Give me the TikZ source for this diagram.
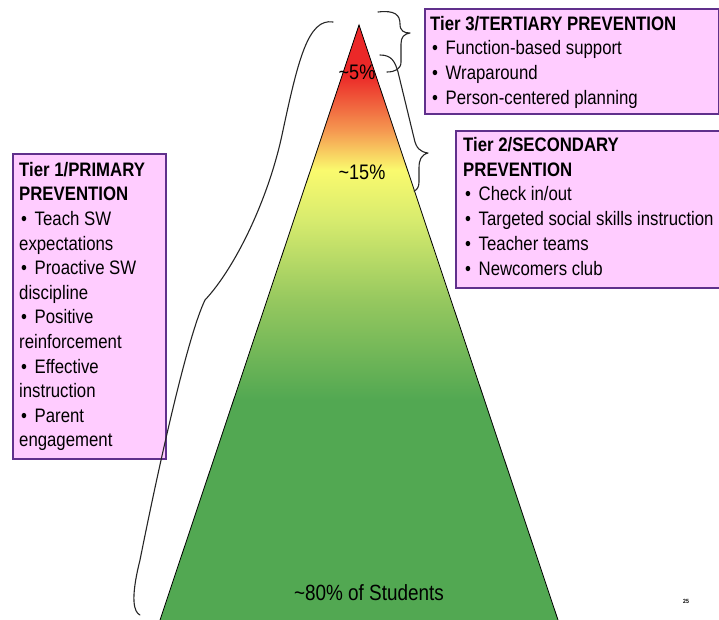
\documentclass[tikz,border=0pt]{standalone}
\usepackage{fontspec}
\setmainfont{Liberation Sans}[FakeStretch=0.86]
\definecolor{boxfill}{RGB}{255,204,255}
\definecolor{boxline}{RGB}{96,48,140}
\definecolor{pg}{RGB}{82,168,82}
\definecolor{pmg}{RGB}{150,200,95}
\definecolor{pyg}{RGB}{215,235,110}
\definecolor{pyl}{RGB}{250,250,110}
\definecolor{por}{RGB}{245,150,80}
\definecolor{prd}{RGB}{235,40,40}
\pgfdeclareverticalshading{pyr}{100bp}{color(0bp)=(pg); color(43.5bp)=(pg); color(51.9bp)=(pmg); color(58.6bp)=(pyg); color(62.8bp)=(pyl); color(66.2bp)=(por); color(70.8bp)=(prd); color(100bp)=(prd)}
\newcommand{\bl}{\makebox[15.5pt][l]{\hspace{2pt}•}}
\begin{document}
\begin{tikzpicture}[x=1pt,y=-1pt,
  tierbox/.style={draw=boxline, fill=boxfill, line width=1.8pt, rectangle, inner sep=0pt},
  tiertext/.style={font=\fontsize{19.5}{24.6}\selectfont, align=left, inner sep=0pt, anchor=north west},
  pct/.style={font=\fontsize{21}{24}\selectfont, inner sep=0pt},
  brace/.style={draw=black!85, line width=1.1pt, line cap=round, line join=round}]
\useasboundingbox (0,0) rectangle (719,620);
% pyramid
\coordinate (apex) at (359,25);
\coordinate (bl) at (160,620);
\coordinate (br) at (558,620);
\shade[shading=pyr] (apex) -- (br) -- (bl) -- cycle;
\draw[line width=0.8pt] (bl) -- (apex) -- (br);
% percentage labels
\node[pct] (p5) at (357,72) {\textasciitilde 5\%};
\node[pct] (p15) at (362,172) {\textasciitilde 15\%};
\node[pct, font=\fontsize{22}{24}\selectfont] (p80) at (369,593) {\textasciitilde 80\% of Students};
% boxes
\node[tierbox, anchor=north west, minimum width=294pt, minimum height=105pt] (t3box) at (424,8) {};
\node[tierbox, anchor=north west, minimum width=266pt, minimum height=157pt] (t2box) at (455,130) {};
\node[tierbox, anchor=north west, minimum width=153pt, minimum height=305pt] (t1box) at (12,153) {};
\node[tiertext] (t3) at (430,16) {\textbf{Tier 3/TERTIARY PREVENTION}\\
\bl Function-based support\\
\bl Wraparound\\
\bl Person-centered planning};
\node[tiertext, font=\fontsize{19.5}{24.8}\selectfont] (t2) at (463,137) {\textbf{Tier 2/SECONDARY}\\
\textbf{PREVENTION}\\
\bl Check in/out\\
\bl Targeted social skills instruction\\
\bl Teacher teams\\
\bl Newcomers club};
\node[tiertext] (t1) at (19,162) {\textbf{Tier 1/PRIMARY}\\
\textbf{PREVENTION}\\
\bl Teach SW\\
expectations\\
\bl Proactive SW\\
discipline\\
\bl Positive\\
reinforcement\\
\bl Effective\\
instruction\\
\bl Parent\\
engagement};
% braces
\draw[brace] (333,22) .. controls (308,18) and (298,60) .. (282,135)
  .. controls (268,200) and (235,268) .. (205,300)
  .. controls (188,335) and (160,460) .. (140,560)
  .. controls (130,600) and (134,612) .. (140,615);
\draw[brace] (378,12) .. controls (395,10) and (400,15) .. (400,24)
  .. controls (400,31) and (404,33) .. (410,33)
  .. controls (404,34) and (401,37) .. (401,44)
  -- (401,62) .. controls (401,69) and (395,72) .. (387,72);
\draw[brace] (380,55) .. controls (392,55) and (395,62) .. (398,72)
  -- (414,138) .. controls (416,148) and (420,152) .. (428,153)
  .. controls (421,155) and (419,160) .. (419,168)
  -- (419,182) .. controls (419,187) and (417,190) .. (414,191);
% page number
\node[font=\bfseries\fontsize{6}{7}\selectfont, inner sep=0pt] (pn) at (686,601) {25};
\end{tikzpicture}
\end{document}
